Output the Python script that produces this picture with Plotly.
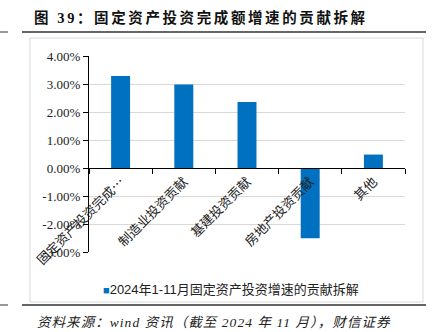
import plotly.graph_objects as go

categories = ["固定资产投资完成额增速", "制造业投资贡献", "基建投资贡献", "房地产投资贡献", "其他"]
tick_labels = ["固定资产投资完成…", "制造业投资贡献", "基建投资贡献", "房地产投资贡献", "其他"]
values = [3.29, 2.98, 2.36, -2.51, 0.48]
y_ticks = [4, 3, 2, 1, 0, -1, -2, -3]
y_tick_labels = ["4.00%", "3.00%", "2.00%", "1.00%", "0.00%", "-1.00%", "-2.00%", "-3.00%"]
series_name = "2024年1-11月固定资产投资增速的贡献拆解"
title_text = "图 39：固定资产投资完成额增速的贡献拆解"
source_text = "资料来源：wind 资讯（截至 2024 年 11 月），财信证券"

W, H = 434, 332
ML, MR, MT, MB = 89, 29, 56, 80
PW, PH = W - ML - MR, H - MT - MB

def px(x):
    return (x - ML) / PW

def py(y):
    return (H - MB - y) / PH

BLUE = "#0070C0"

fig = go.Figure()
fig.add_trace(go.Bar(
    x=categories, y=values, name=series_name,
    marker=dict(color=BLUE, line=dict(width=0)),
    width=0.3, showlegend=False,
))

ymin, ymax = -3, 4
fig.update_layout(
    width=W, height=H,
    margin=dict(l=ML, r=MR, t=MT, b=MB, pad=0),
    paper_bgcolor="white", plot_bgcolor="white",
    showlegend=False,
    xaxis=dict(
        type="category", tickvals=categories, ticktext=tick_labels,
        tickangle=-45, anchor="free", position=(0 - ymin) / (ymax - ymin),
        showline=True, linecolor="#000", linewidth=1.3,
        ticks="outside", ticklen=5, tickcolor="#000", tickson="boundaries",
        tickfont=dict(family="Noto Sans CJK SC", size=13, color="#222"),
        automargin=False, showgrid=False, zeroline=False,
    ),
    yaxis=dict(
        range=[ymin, ymax], tickvals=y_ticks, ticktext=y_tick_labels,
        showline=True, linecolor="#000", linewidth=1.3,
        ticks="outside", ticklen=5, tickcolor="#000",
        tickfont=dict(family="Liberation Serif", size=13, color="#222"),
        showgrid=True, gridcolor="#d9d9d9", gridwidth=1,
        zeroline=False, automargin=False,
    ),
    font=dict(family="Noto Sans CJK SC"),
)

shapes = [
    dict(type="rect", xref="paper", yref="paper", x0=px(30), x1=px(423), y0=py(38), y1=py(302),
         line=dict(color="#d9d9d9", width=1), fillcolor="rgba(0,0,0,0)", layer="below"),
    dict(type="line", xref="paper", yref="paper", x0=px(22), x1=px(426), y0=py(32), y1=py(32),
         line=dict(color="#333", width=1.5)),
    dict(type="line", xref="paper", yref="paper", x0=px(22), x1=px(426), y0=py(305), y1=py(305),
         line=dict(color="#333", width=1.5)),
    dict(type="line", xref="paper", yref="paper", x0=px(0), x1=px(8), y0=py(32), y1=py(32),
         line=dict(color="#333", width=1)),
    dict(type="line", xref="paper", yref="paper", x0=px(0), x1=px(8), y0=py(305), y1=py(305),
         line=dict(color="#333", width=1)),
]
fig.update_layout(shapes=shapes)

# title
fig.add_annotation(text='<span style="letter-spacing:2.6px"><b>' + title_text + "</b></span>",
                   xref="paper", yref="paper",
                   x=px(32), y=py(18), xanchor="left", yanchor="middle", showarrow=False,
                   font=dict(family="Liberation Serif, Noto Sans CJK SC", size=14.5, color="#111"))
# legend (square + series name)
fig.add_annotation(text='<span style="color:' + BLUE + ';font-size:11px">■</span>' + series_name,
                   xref="paper", yref="paper",
                   x=px(101), y=py(289), xanchor="left", yanchor="middle", showarrow=False,
                   font=dict(family="Liberation Sans, Noto Sans CJK SC", size=13, color="#222"))
# source
fig.add_annotation(text='<span style="letter-spacing:1.05px"><i>' + source_text + "</i></span>",
                   xref="paper", yref="paper",
                   x=px(35), y=py(322), xanchor="left", yanchor="middle", showarrow=False,
                   font=dict(family="Liberation Serif, Noto Sans CJK SC", size=13.5, color="#222"))

fig.write_html("out.html")
